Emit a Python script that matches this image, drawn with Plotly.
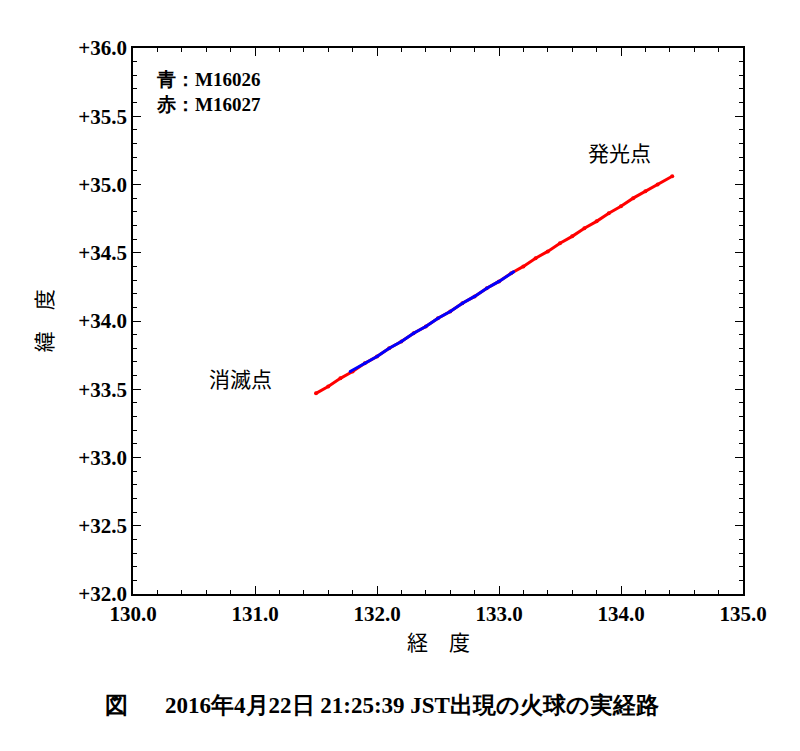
import plotly.graph_objects as go

# fireball track: red = M16027, blue = M16026
red_lon = [131.50, 131.60, 131.70, 131.80, 131.90, 132.00, 132.10, 132.20, 132.30, 132.40,
           132.50, 132.60, 132.70, 132.80, 132.90, 133.00, 133.10, 133.20, 133.30, 133.40,
           133.50, 133.60, 133.70, 133.80, 133.90, 134.00, 134.10, 134.20, 134.30, 134.42]
red_lat = [33.47, 33.52, 33.58, 33.63, 33.69, 33.74, 33.80, 33.85, 33.91, 33.96,
           34.02, 34.07, 34.13, 34.18, 34.24, 34.29, 34.35, 34.40, 34.46, 34.51,
           34.57, 34.62, 34.68, 34.73, 34.79, 34.84, 34.90, 34.95, 35.00, 35.06]
blue_lon = [131.78, 131.90, 132.00, 132.10, 132.20, 132.30, 132.40, 132.50,
            132.60, 132.70, 132.80, 132.90, 133.00, 133.12]
blue_lat = [33.63, 33.69, 33.74, 33.80, 33.85, 33.91, 33.96, 34.02,
            34.07, 34.13, 34.18, 34.24, 34.29, 34.36]
x_ticks = [130.0, 131.0, 132.0, 133.0, 134.0, 135.0]
y_ticks = [32.0, 32.5, 33.0, 33.5, 34.0, 34.5, 35.0, 35.5, 36.0]

FONT = "Liberation Serif"
JP = "Noto Sans CJK JP"

fig = go.Figure()
fig.add_trace(go.Scatter(x=red_lon, y=red_lat, mode="lines+markers",
                         line=dict(color="red", width=3), marker=dict(color="red", size=4)))
fig.add_trace(go.Scatter(x=blue_lon, y=blue_lat, mode="lines+markers",
                         line=dict(color="blue", width=3), marker=dict(color="blue", size=3)))

axis_common = dict(showgrid=False, zeroline=False, showline=True, linecolor="black", linewidth=1.5,
                   mirror="ticks", ticks="inside", ticklen=8, tickcolor="black", automargin=False,
                   tickfont=dict(family=FONT, size=21, color="black"))
fig.update_xaxes(range=[130, 135], tickvals=x_ticks,
                 ticktext=[f"<b>{v:.1f}</b>" for v in x_ticks],
                 minor=dict(dtick=0.2, ticks="inside", ticklen=4, tickcolor="black"), **axis_common)
fig.update_yaxes(range=[32, 36], tickvals=y_ticks,
                 ticktext=[f"<b>{v:+.1f}</b>" for v in y_ticks],
                 minor=dict(dtick=0.1, ticks="inside", ticklen=4, tickcolor="black"), **axis_common)

anns = [
    dict(x=0.035, y=0.965, xref="paper", yref="paper", xanchor="left", yanchor="top", align="left",
         text="<b>青：M16026<br>赤：M16027</b>", font=dict(family=FONT, size=19)),
    dict(x=133.99, y=35.24, text="発光点", font=dict(family=JP, size=21)),
    dict(x=130.88, y=33.58, text="消滅点", font=dict(family=JP, size=21)),
    dict(x=0.5, y=-0.118, xref="paper", yref="paper", text="経　度",
         font=dict(family=JP, size=21)),
    dict(x=-0.175, y=0.5, xref="paper", yref="paper", textangle=-90, text="緯　度",
         font=dict(family=JP, size=21)),
    dict(x=-0.049, y=-0.23, xref="paper", yref="paper", text="<b>図</b>",
         font=dict(family=FONT, size=23)),
    dict(x=0.049, y=-0.23, xref="paper", yref="paper", xanchor="left",
         text="<b>2016年4月22日 21:25:39 JST出現の火球の実経路</b>",
         font=dict(family=FONT, size=23)),
]
for a in anns:
    a.setdefault("showarrow", False)
    a["font"]["color"] = "black"
    fig.add_annotation(**a)

fig.update_layout(width=800, height=751, showlegend=False, plot_bgcolor="white", paper_bgcolor="white",
                  margin=dict(l=125, r=65, t=40, b=165))
fig.write_html("out.html")
